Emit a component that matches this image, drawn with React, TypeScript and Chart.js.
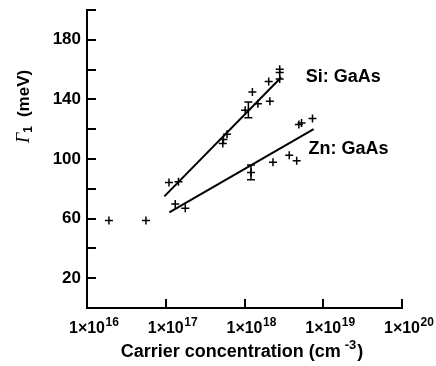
import React, { useEffect, useRef } from "react";
import { Chart, registerables } from "chart.js";

Chart.register(...registerables);

// ---- data ----
const xTickValues = [1e16, 1e17, 1e18, 1e19, 1e20];
const xTickBase = "1×10";
const xTickExponents = ["16", "17", "18", "19", "20"];
const yTickValues = [0, 20, 40, 60, 80, 100, 120, 140, 160, 180, 200];
const yLabelledTicks = [20, 60, 100, 140, 180];

const siX = [1.1e17, 1.45e17, 5.3e17, 5.4e17, 6.0e17, 1.02e18, 1.26e18, 1.48e18, 2.03e18, 2.1e18, 2.8e18, 2.8e18, 2.8e18];
const siY = [84.2, 84.7, 110.4, 113.1, 116.6, 132.7, 144.9, 137, 152, 138.7, 160.3, 158, 153.7];

const znX = [1.32e17, 1.77e17, 1.21e18, 2.3e18, 3.7e18, 4.6e18, 4.9e18, 5.3e18, 7.3e18];
const znY = [69.8, 66.9, 91, 97.8, 102.5, 98.8, 123.1, 124.2, 127.1];

const lowX = [1.9e16, 5.6e16];
const lowY = [58.7, 58.7];

const siFitX = [9.6e16, 2.93e18];
const siFitY = [74.9, 154.9];
const znFitX = [1.11e17, 7.55e18];
const znFitY = [64.2, 120];

const errX = [1.12e18, 1.21e18];
const errY = [133, 91];
const errE = [5.3, 5];

const annX = [6e18, 6.5e18];
const annY = [155.3, 106.7];
const annText = ["Si: GaAs", "Zn: GaAs"];

const yTitleSymbol = "Γ";
const yTitleSub = "1";
const yTitleUnit = "(meV)";
const xTitleMain = "Carrier concentration (cm";
const xTitleSup = "-3";
const xTitleEnd = ")";

const FONT = "'Liberation Sans', Arial, Helvetica, sans-serif";

const zip = (xs: number[], ys: number[]) => xs.map((x, i) => ({ x, y: ys[i] }));

const overlayPlugin = {
  id: "overlay",
  afterDraw(chart: any) {
    const ctx = chart.ctx;
    const xs = chart.scales.x;
    const ys = chart.scales.y;
    const area = chart.chartArea;
    ctx.save();
    ctx.strokeStyle = "#000";
    ctx.fillStyle = "#000";
    // inward tick marks
    ctx.lineWidth = 2;
    xTickValues.forEach((v) => {
      const px = Math.round(xs.getPixelForValue(v));
      ctx.beginPath();
      ctx.moveTo(px, area.bottom);
      ctx.lineTo(px, area.bottom - 9);
      ctx.stroke();
    });
    yTickValues.forEach((v) => {
      if (v === 0) return;
      const py = Math.round(ys.getPixelForValue(v));
      ctx.beginPath();
      ctx.moveTo(area.left, py);
      ctx.lineTo(area.left + 9, py);
      ctx.stroke();
    });
    // x tick labels with superscript exponents
    ctx.textBaseline = "alphabetic";
    ctx.textAlign = "left";
    xTickValues.forEach((v, i) => {
      const px = xs.getPixelForValue(v);
      ctx.font = `bold 16px ${FONT}`;
      const wb = ctx.measureText(xTickBase).width;
      ctx.fillText(xTickBase, px - wb / 2, area.bottom + 25);
      ctx.font = `bold 12px ${FONT}`;
      ctx.fillText(xTickExponents[i], px + wb / 2 + 0.5, area.bottom + 18);
    });
    // x title
    ctx.font = `bold 18px ${FONT}`;
    const w1 = ctx.measureText(xTitleMain).width;
    const wEnd = ctx.measureText(xTitleEnd).width;
    ctx.font = `bold 13px ${FONT}`;
    const wSup = ctx.measureText(xTitleSup).width;
    const total = w1 + 4 + wSup + 1 + wEnd;
    let tx = 242 - total / 2;
    ctx.font = `bold 18px ${FONT}`;
    ctx.fillText(xTitleMain, tx, 357);
    tx += w1 + 4;
    ctx.font = `bold 13px ${FONT}`;
    ctx.fillText(xTitleSup, tx, 349);
    tx += wSup + 1;
    ctx.font = `bold 18px ${FONT}`;
    ctx.fillText(xTitleEnd, tx, 357);
    // error bars
    ctx.lineWidth = 1.5;
    errX.forEach((x, i) => {
      const px = xs.getPixelForValue(x);
      const y1 = ys.getPixelForValue(errY[i] + errE[i]);
      const y2 = ys.getPixelForValue(errY[i] - errE[i]);
      ctx.beginPath();
      ctx.moveTo(px, y1);
      ctx.lineTo(px, y2);
      ctx.moveTo(px - 4, y1);
      ctx.lineTo(px + 4, y1);
      ctx.moveTo(px - 4, y2);
      ctx.lineTo(px + 4, y2);
      ctx.stroke();
    });
    // annotations
    ctx.font = `bold 18px ${FONT}`;
    ctx.textAlign = "left";
    ctx.textBaseline = "middle";
    annText.forEach((t, i) => {
      ctx.fillText(t, xs.getPixelForValue(annX[i]), ys.getPixelForValue(annY[i]));
    });
    // y title (rotated)
    ctx.translate(24, 143);
    ctx.rotate(-Math.PI / 2);
    ctx.textBaseline = "middle";
    ctx.font = `italic 18px 'Liberation Serif', 'Times New Roman', serif`;
    ctx.fillText(yTitleSymbol, 0, 0);
    let w = ctx.measureText(yTitleSymbol).width;
    ctx.font = `bold 12px ${FONT}`;
    ctx.fillText(yTitleSub, w, 5);
    w += ctx.measureText(yTitleSub).width + 9;
    ctx.font = `bold 17px ${FONT}`;
    ctx.fillText(yTitleUnit, w, 0);
    ctx.restore();
  },
};

export default function App() {
  const ref = useRef<HTMLCanvasElement | null>(null);
  useEffect(() => {
    if (!ref.current) return;
    const marker = {
      pointStyle: "cross",
      pointRadius: 4,
      borderColor: "#000",
      backgroundColor: "#000",
      borderWidth: 1.5,
    };
    const chart = new Chart(ref.current, {
      type: "scatter",
      data: {
        datasets: [
          { label: "Si: GaAs", data: zip(siX, siY), ...marker },
          { label: "Zn: GaAs", data: zip(znX, znY), ...marker },
          { label: "low", data: zip(lowX, lowY), ...marker },
          {
            label: "Si fit",
            data: zip(siFitX, siFitY),
            showLine: true,
            pointRadius: 0,
            borderColor: "#000",
            borderWidth: 2,
          },
          {
            label: "Zn fit",
            data: zip(znFitX, znFitY),
            showLine: true,
            pointRadius: 0,
            borderColor: "#000",
            borderWidth: 2,
          },
        ],
      },
      options: {
        responsive: false,
        animation: false,
        events: [],
        layout: { padding: { left: 0, right: 34, top: 10, bottom: 0 } },
        plugins: {
          legend: { display: false },
          tooltip: { enabled: false },
        },
        scales: {
          x: {
            type: "logarithmic",
            min: 1e16,
            max: 1e20,
            afterBuildTicks: (s: any) => {
              s.ticks = xTickValues.map((v) => ({ value: v }));
            },
            afterFit: (s: any) => {
              s.height = 58;
              s.paddingLeft = 0;
              s.paddingRight = 0;
            },
            grid: { display: false, drawTicks: false },
            border: { display: true, color: "#000", width: 2 },
            ticks: { display: false },
          },
          y: {
            min: 0,
            max: 200,
            afterBuildTicks: (s: any) => {
              s.ticks = yTickValues.map((v) => ({ value: v }));
            },
            afterFit: (s: any) => {
              s.width = 87;
              s.paddingTop = 0;
              s.paddingBottom = 0;
            },
            grid: { display: false, drawTicks: false },
            border: { display: true, color: "#000", width: 2 },
            ticks: {
              autoSkip: false,
              padding: 6,
              color: "#000",
              font: { family: FONT, size: 17, weight: "bold" },
              callback: (v: any) => (yLabelledTicks.includes(Number(v)) ? String(v) : ""),
            },
          },
        },
      },
      plugins: [overlayPlugin],
    } as any);
    return () => chart.destroy();
  }, []);
  return (
    <div style={{ position: "absolute", left: 0, top: 0, width: 436, height: 366, background: "#fff" }}>
      <canvas ref={ref} width={436} height={366} style={{ display: "block" }} />
    </div>
  );
}
